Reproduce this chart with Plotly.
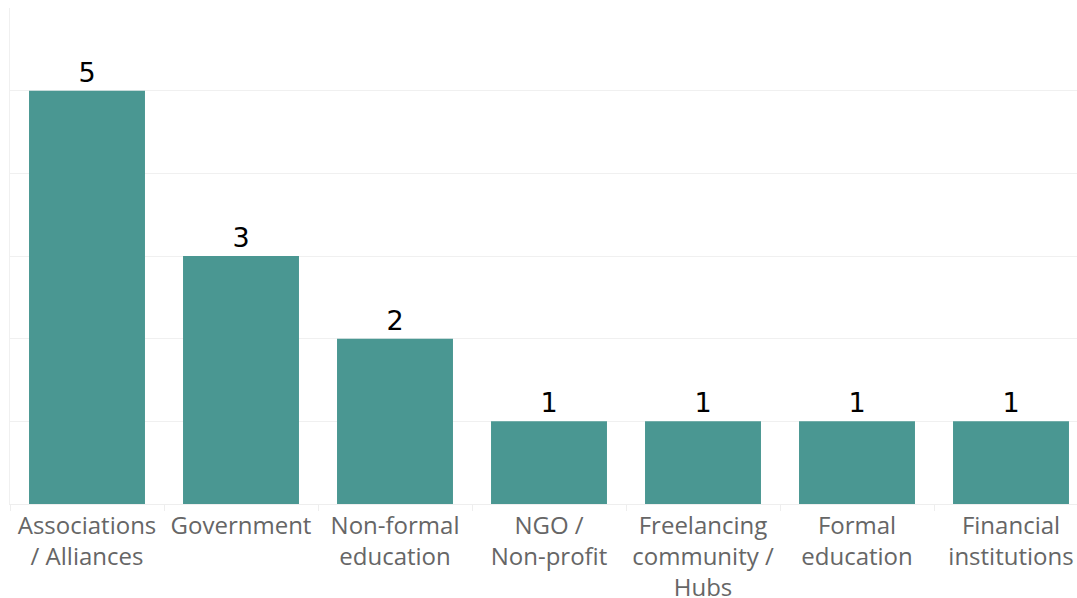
import plotly.graph_objects as go

categories = ["Associations<br>/ Alliances", "Government", "Non-formal<br>education",
              "NGO /<br>Non-profit", "Freelancing<br>community /<br>Hubs",
              "Formal<br>education", "Financial<br>institutions"]
values = [5, 3, 2, 1, 1, 1, 1]

fig = go.Figure(go.Bar(
    x=categories, y=values,
    marker=dict(color="#4A9792", line=dict(width=0)),
    text=[str(v) for v in values], textposition="outside",
    textfont=dict(family="DejaVu Sans", size=27, color="#000000"),
    cliponaxis=False, width=0.753,
))

fig.update_layout(
    width=1077, height=598,
    margin=dict(l=10, r=0, t=8, b=94),
    paper_bgcolor="white", plot_bgcolor="white",
    showlegend=False,
    xaxis=dict(
        range=[-0.5, 6.4286], automargin=False,
        tickfont=dict(family="Open Sans", size=24, color="#666666"),
        ticks="outside", tickson="boundaries", ticklen=6, tickcolor="#eeeeee",
        showline=True, linecolor="#eeeeee", showgrid=False,
    ),
    yaxis=dict(
        range=[0, 6], dtick=1, showticklabels=False, automargin=False,
        showgrid=True, gridcolor="#f0f0f0", zeroline=False,
        showline=True, linecolor="#f0f0f0",
    ),
)

fig.write_html("out.html")
